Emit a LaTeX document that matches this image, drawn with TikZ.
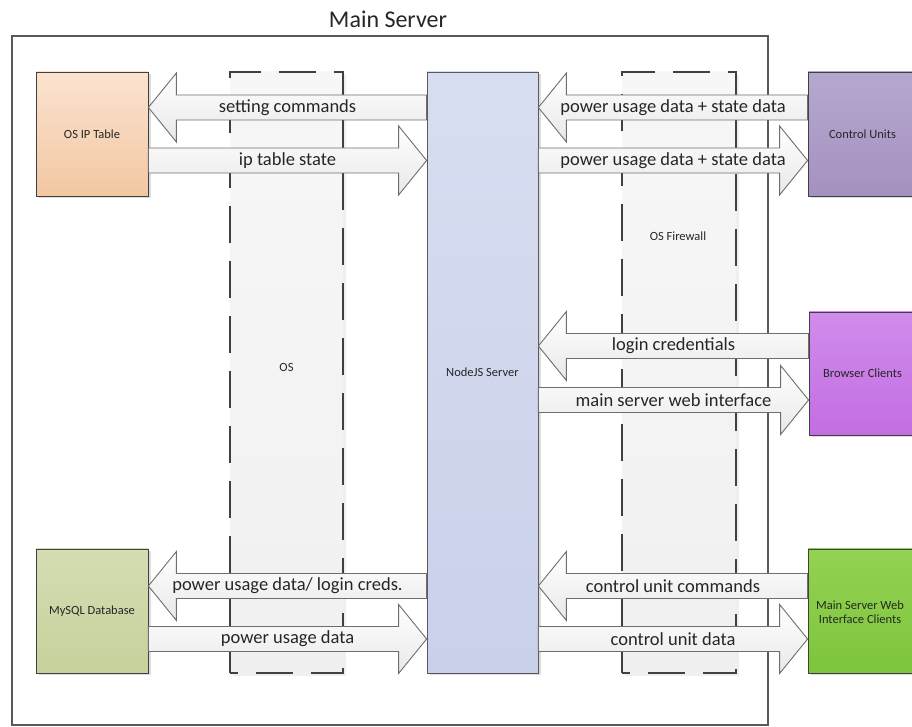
\documentclass[tikz,border=0pt]{standalone}
\usepackage{fontspec}
\setmainfont{Carlito}
\usetikzlibrary{calc,shadows}
\definecolor{framec}{HTML}{595959}
\definecolor{dashc}{HTML}{404040}
\definecolor{txt}{HTML}{262626}
\definecolor{ipTop}{HTML}{FBE3D0}\definecolor{ipBot}{HTML}{F2C7A2}
\definecolor{njTop}{HTML}{D8DEF1}\definecolor{njBot}{HTML}{C9D0EA}
\definecolor{cuTop}{HTML}{B5A8CE}\definecolor{cuBot}{HTML}{A491C0}
\definecolor{bcTop}{HTML}{D08CEB}\definecolor{bcBot}{HTML}{C36DE2}
\definecolor{msTop}{HTML}{93D253}\definecolor{msBot}{HTML}{7DC53B}
\definecolor{dbTop}{HTML}{D4DDB3}\definecolor{dbBot}{HTML}{C6D19B}
\definecolor{colTop}{HTML}{F7F7F7}\definecolor{colBot}{HTML}{F0F0F0}
\definecolor{arrc}{HTML}{6E6E6E}
\tikzset{
  boxlabel/.style={font=\fontsize{12.5}{14}\selectfont, text=txt, align=center},
  box/.style={draw=dashc, line width=0.8pt, boxlabel,
    drop shadow={shadow xshift=2.5pt, shadow yshift=-2.5pt, fill=black!30, opacity=.45}},
  colbox/.style={draw=dashc, line width=2pt, dash pattern=on 37pt off 18pt, dash phase=29pt,
    top color=colTop, bottom color=colBot,
    drop shadow={shadow xshift=3pt, shadow yshift=-3pt, fill=black!10, opacity=.6}},
  barrow/.style={draw=arrc, line width=0.9pt, top color=white, bottom color=black!9, line join=miter},
  alabel/.style={font=\fontsize{18.5}{20}\selectfont, text=txt, inner sep=0pt},
}
% arrow pointing left: tip at #1.east, tail at #2.west, centre height #3
\newcommand\arrowToLeft[4]{%
  \draw[barrow] let \p1=(#1.east), \p2=(#2.west) in
    (\x1,#3pt) -- (\x1+28pt,#3pt+34.5pt) -- (\x1+28pt,#3pt+12.5pt) -- (\x2,#3pt+12.5pt)
    -- (\x2,#3pt-12.5pt) -- (\x1+28pt,#3pt-12.5pt) -- (\x1+28pt,#3pt-34.5pt) -- cycle;
  \path let \p1=(#1.east), \p2=(#2.west) in node[alabel] at ({(\x1+\x2)/2},#3pt) {#4};}
% arrow pointing right: tail at #1.east, tip at #2.west, centre height #3
\newcommand\arrowToRight[4]{%
  \draw[barrow] let \p1=(#1.east), \p2=(#2.west) in
    (\x2,#3pt) -- (\x2-28pt,#3pt+34.5pt) -- (\x2-28pt,#3pt+12.5pt) -- (\x1,#3pt+12.5pt)
    -- (\x1,#3pt-12.5pt) -- (\x2-28pt,#3pt-12.5pt) -- (\x2-28pt,#3pt-34.5pt) -- cycle;
  \path let \p1=(#1.east), \p2=(#2.west) in node[alabel] at ({(\x1+\x2)/2},#3pt) {#4};}
\begin{document}
\begin{tikzpicture}[x=1pt,y=1pt]
\useasboundingbox (0,0) rectangle (912,727);
\fill[white] (0,0) rectangle (912,727);
% main server frame
\node[draw=framec, line width=2pt, minimum width=756pt, minimum height=689pt, inner sep=0pt] (frame) at (390,346.5) {};
\node[font=\fontsize{24}{26}\selectfont, text=txt] (title) at (388,708) {Main Server};
% columns
\node[colbox, minimum width=113pt, minimum height=601pt, inner sep=0pt] (oscol) at (286.5,354.5) {};
\node[boxlabel] (oslabel) at (286.5,360) {OS};
\node[colbox, minimum width=114pt, minimum height=601pt, inner sep=0pt] (fwcol) at (679,354.5) {};
\node[boxlabel] (fwlabel) at (678,491) {OS Firewall};
% boxes
\node[box, top color=njTop, bottom color=njBot, draw=framec, minimum width=111pt, minimum height=601pt, inner sep=0pt] (nodejs) at (482.5,354.5) {NodeJS Server};
\node[box, top color=ipTop, bottom color=ipBot, minimum width=112pt, minimum height=124pt, inner sep=0pt] (iptable) at (92,593) {OS IP Table};
\node[box, top color=dbTop, bottom color=dbBot, minimum width=112pt, minimum height=124pt, inner sep=0pt] (mysql) at (92,116) {MySQL Database};
\node[box, top color=cuTop, bottom color=cuBot, minimum width=108pt, minimum height=124pt, inner sep=0pt] (control) at (862,593) {};
\node[boxlabel] at (862.5,593) {Control Units};
\node[box, top color=bcTop, bottom color=bcBot, minimum width=107pt, minimum height=123pt, inner sep=0pt] (browser) at (862.5,353.5) {};
\node[boxlabel] at (862.5,353.5) {Browser Clients};
\node[box, top color=msTop, bottom color=msBot, minimum width=108pt, minimum height=124pt, inner sep=0pt] (mswic) at (862,116) {};
\node[boxlabel] at (860,115) {Main Server Web\\Interface Clients};
% arrows
\arrowToLeft{iptable}{nodejs}{619.5}{setting commands}
\arrowToRight{iptable}{nodejs}{566.5}{ip table state}
\arrowToLeft{nodejs}{control}{619.5}{power usage data + state data}
\arrowToRight{nodejs}{control}{566.5}{power usage data + state data}
\arrowToLeft{nodejs}{browser}{381}{login credentials}
\arrowToRight{nodejs}{browser}{327}{main server web interface}
\arrowToLeft{mysql}{nodejs}{141}{power usage data/ login creds.}
\arrowToRight{mysql}{nodejs}{88}{power usage data}
\arrowToLeft{nodejs}{mswic}{141}{control unit commands}
\arrowToRight{nodejs}{mswic}{88}{control unit data}
\end{tikzpicture}
\end{document}
